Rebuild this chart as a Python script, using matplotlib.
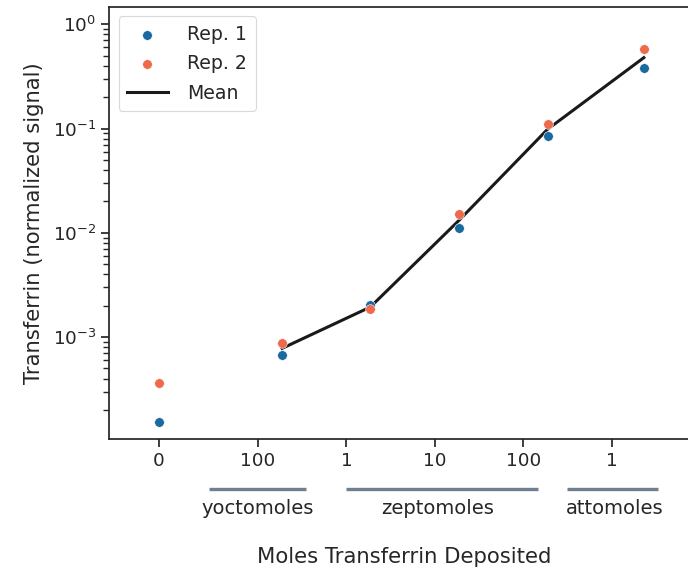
import matplotlib
matplotlib.use("Agg")
import matplotlib.pyplot as plt
import matplotlib.transforms as mtransforms
import numpy as np

# ---- data ----
# x positions in log10(yoctomoles) units; first point is the "0" blank
x_pos = [0.875, 2.272, 3.27, 4.271, 5.275, 6.365]
rep1 = [1.54e-4, 6.76e-4, 2.03e-3, 0.0112, 0.0850, 0.377]
rep2 = [3.62e-4, 8.82e-4, 1.85e-3, 0.0150, 0.1117, 0.581]
tick_pos = [0.875, 2, 3, 4, 5, 6]
tick_labels = ["0", "100", "1", "10", "100", "1"]
unit_names = ["yoctomoles", "zeptomoles", "attomoles"]
unit_spans = [(1.44, 2.54), (3.0, 5.17), (5.49, 6.53)]
unit_text_x = [2.0, 4.03, 6.03]

mean_x = x_pos[1:]
mean_y = [(a + b) / 2 for a, b in zip(rep1[1:], rep2[1:])]

dark = "#262626"
plt.rcParams.update({
    "font.family": ["DejaVu Sans"],
    "text.color": dark,
    "axes.labelcolor": dark,
    "xtick.color": dark,
    "ytick.color": dark,
    "axes.edgecolor": dark,
})

fig = plt.figure(figsize=(6.88, 5.69), dpi=100)
L, R, T, B = 109.3, 700.0, 6.7, 439.3
ax = fig.add_axes([L / 688, (569 - B) / 569, (R - L) / 688, (B - T) / 569])

c1 = "#1b69a1"
c2 = "#ef6a4c"
ax.scatter(x_pos, rep1, s=48, color=c1, edgecolor="white", linewidth=0.4, label="Rep. 1", zorder=3)
ax.scatter(x_pos, rep2, s=48, color=c2, edgecolor="white", linewidth=0.4, label="Rep. 2", zorder=3)
ax.plot(mean_x, mean_y, color="#1a1a1a", lw=2.2, label="Mean", zorder=2)

ax.set_yscale("log")
ax.set_ylim(10 ** -3.981, 10 ** 0.169)
ax.set_xlim(0.317, 7.0)
ax.set_xticks(tick_pos)
ax.set_xticklabels(tick_labels)
ax.minorticks_off()
ax.yaxis.set_minor_locator(matplotlib.ticker.LogLocator(base=10, subs=np.arange(2, 10)))
ax.tick_params(axis="both", which="major", labelsize=13.2, length=6, width=1.25, direction="out")
ax.tick_params(axis="y", which="minor", length=4, width=1.0)
for s in ax.spines.values():
    s.set_linewidth(1.25)

ax.set_ylabel("Transferrin (normalized signal)", fontsize=15.2, labelpad=6)
ax.set_xlabel("Moles Transferrin Deposited", fontsize=15.2, va="center")
ax.xaxis.set_label_coords(0.5, -(557 - B) / (B - T))

trans = mtransforms.blended_transform_factory(ax.transData, ax.transAxes)
line_y = -(489 - B) / (B - T)
text_y = -(508 - B) / (B - T)
for name, (x0, x1), tx in zip(unit_names, unit_spans, unit_text_x):
    ax.plot([x0, x1], [line_y, line_y], color="#6f7f90", lw=2.4, transform=trans,
            clip_on=False, solid_capstyle="butt")
    ax.text(tx, text_y, name, transform=trans, ha="center", va="center", fontsize=14)

leg = ax.legend(loc="upper left", fontsize=13.6, frameon=True, borderpad=0.45,
                handletextpad=1.05, handlelength=2.15, labelspacing=0.56, borderaxespad=0,
                bbox_to_anchor=((118.5 - L) / (R - L), 1 - (16 - T) / (B - T)))
leg.get_frame().set_edgecolor("#d0d0d0")
leg.get_frame().set_linewidth(0.8)

fig.savefig("out.png", dpi=100)
